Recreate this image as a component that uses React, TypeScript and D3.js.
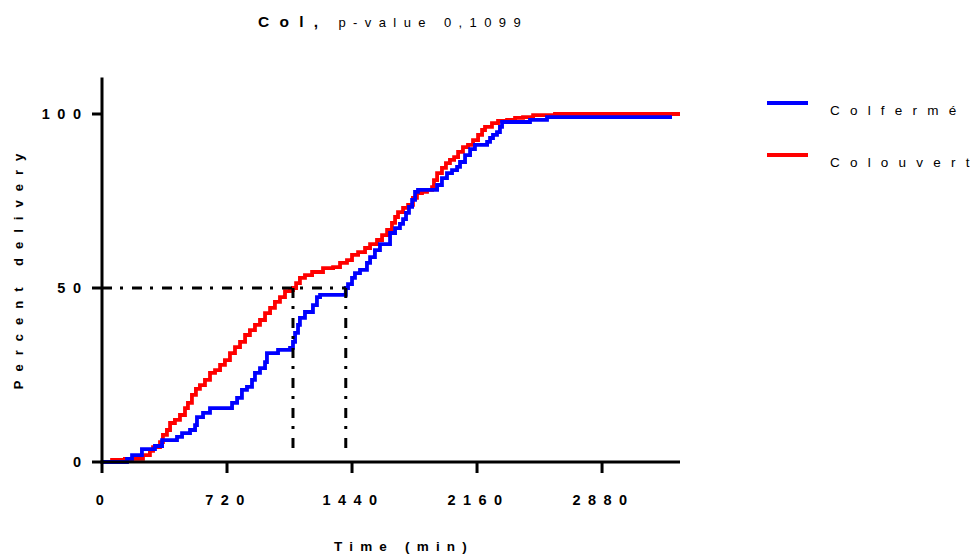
import React from "react";
import * as d3 from "d3";

// Time in minutes, cumulative percent delivered (step points)
const fermeTimes = [0, 144, 173, 230, 305, 346, 432, 461, 507, 536, 547, 582, 622, 749, 778, 806, 835, 864, 881, 910, 939, 950, 1014, 1083, 1100, 1112, 1129, 1140, 1169, 1215, 1238, 1256, 1404, 1417, 1440, 1457, 1486, 1526, 1544, 1572, 1601, 1659, 1688, 1716, 1734, 1751, 1768, 1786, 1803, 1820, 1930, 1958, 1987, 2016, 2045, 2062, 2091, 2120, 2148, 2218, 2235, 2252, 2275, 2292, 2304, 2465, 2563, 3283];
const fermeValues = [0, 0.9, 2.0, 3.7, 4.6, 6.3, 7.2, 8.3, 9.2, 10.6, 12.9, 14.1, 15.5, 17.0, 18.4, 20.7, 21.6, 23.6, 25.6, 27.0, 28.7, 31.3, 32.2, 32.8, 34.5, 37.1, 39.4, 41.4, 43.1, 45.1, 47.4, 48.0, 50.0, 51.1, 52.9, 54.3, 55.2, 57.2, 58.9, 60.9, 62.6, 65.8, 67.2, 68.4, 69.8, 71.6, 73.3, 75.3, 77.6, 78.2, 79.6, 81.6, 83.0, 83.9, 84.8, 86.2, 88.2, 89.9, 91.1, 92.0, 93.1, 94.0, 94.8, 96.3, 97.7, 98.3, 99.1, 99.1];

const ouvertTimes = [0, 58, 132, 236, 276, 294, 334, 351, 374, 392, 420, 449, 478, 495, 518, 541, 564, 593, 622, 651, 680, 708, 737, 766, 795, 824, 852, 881, 910, 939, 968, 996, 1025, 1054, 1083, 1100, 1118, 1140, 1169, 1210, 1273, 1331, 1371, 1411, 1440, 1475, 1515, 1544, 1584, 1613, 1642, 1670, 1688, 1705, 1734, 1763, 1791, 1814, 1843, 1872, 1901, 1912, 1930, 1958, 1981, 2004, 2028, 2051, 2079, 2108, 2137, 2166, 2189, 2206, 2246, 2281, 2333, 2379, 2425, 2483, 2609, 3329];
const ouvertValues = [0, 0.6, 0.9, 2.0, 3.2, 4.3, 5.7, 7.8, 9.2, 11.2, 12.1, 13.5, 15.5, 17.0, 19.3, 21.0, 22.1, 23.6, 25.6, 26.4, 27.9, 29.3, 31.3, 33.0, 34.5, 36.5, 37.9, 39.4, 40.8, 42.8, 44.3, 46.0, 47.4, 49.1, 49.4, 50.0, 51.4, 52.9, 53.7, 54.6, 55.7, 56.0, 57.2, 58.0, 59.5, 60.3, 61.5, 62.6, 63.8, 65.2, 66.7, 68.7, 70.4, 71.8, 73.0, 73.9, 75.9, 77.3, 77.6, 78.2, 79.0, 81.0, 83.0, 84.5, 85.9, 86.8, 87.6, 89.1, 90.5, 91.1, 92.5, 94.0, 95.4, 96.3, 97.4, 98.0, 98.3, 98.9, 99.1, 99.7, 100, 100];

const medianTimes = [1100, 1404];
const medianLevel = 50;
const xTicks = [0, 720, 1440, 2160, 2880];
const yTicks = [0, 50, 100];
const seriesNames = ["Colfermé", "Colouvert"];
const seriesColors = ["#0000ff", "#ff0000"];

const FONT = "'Liberation Sans', Arial, Helvetica, sans-serif";

export default function App() {
  const x = d3.scaleLinear().domain([0, 3329]).range([102, 680]);
  const y = d3.scaleLinear().domain([0, 100]).range([462, 114]);
  const yTop = y(110.5);

  const line = d3
    .line<[number, number]>()
    .x((d) => x(d[0]))
    .y((d) => y(d[1]))
    .curve(d3.curveStepAfter);

  const series = [
    { times: fermeTimes, values: fermeValues },
    { times: ouvertTimes, values: ouvertValues },
  ];

  const dash = "10,8,3,9";
  const tickSpacing = 7.5;

  return (
    <svg
      width={975}
      height={556}
      style={{ position: "absolute", left: 0, top: 0, background: "#fff" }}
      fontFamily={FONT}
    >
      {/* Title */}
      <text x={258} y={27} fill="#000">
        <tspan fontSize={15.5} fontWeight="bold" letterSpacing={10.3}>Col,</tspan>
        <tspan fontSize={13} letterSpacing={7.4} dx={10}>p-value 0,1099</tspan>
      </text>

      {/* series */}
      {[1, 0].map((i) => (
        <path
          key={i}
          d={line(series[i].times.map((t, k) => [t, series[i].values[k]] as [number, number])) || ""}
          fill="none"
          stroke={seriesColors[i]}
          strokeWidth={3.8}
        />
      ))}

      {/* median dash-dot lines */}
      <line
        x1={x(0)}
        x2={x(medianTimes[1])}
        y1={y(medianLevel)}
        y2={y(medianLevel)}
        stroke="#000"
        strokeWidth={3}
        strokeDasharray={dash}
      />
      {medianTimes.map((m) => (
        <line
          key={m}
          x1={x(m)}
          x2={x(m)}
          y1={y(medianLevel)}
          y2={y(2)}
          stroke="#000"
          strokeWidth={3}
          strokeDasharray={dash}
        />
      ))}

      {/* Y axis */}
      <line x1={x(0)} x2={x(0)} y1={yTop} y2={y(0) + 1.5} stroke="#000" strokeWidth={3} />
      {yTicks.map((t) => (
        <g key={t}>
          <line x1={x(0) - 10} x2={x(0)} y1={y(t)} y2={y(t)} stroke="#000" strokeWidth={3} />
          <text
            x={81 + tickSpacing}
            y={y(t) + 5}
            textAnchor="end"
            fontSize={14.5}
            fontWeight="bold"
            letterSpacing={tickSpacing}
          >
            {t}
          </text>
        </g>
      ))}

      {/* X axis */}
      <line x1={x(0) - 1.5} x2={680} y1={y(0)} y2={y(0)} stroke="#000" strokeWidth={3} />
      {xTicks.map((t) => (
        <g key={t}>
          <line x1={x(t)} x2={x(t)} y1={y(0)} y2={y(0) + 11} stroke="#000" strokeWidth={3} />
          <text
            x={x(t) + 1.5}
            y={505}
            textAnchor="middle"
            fontSize={14.5}
            fontWeight="bold"
            letterSpacing={tickSpacing}
          >
            {t}
          </text>
        </g>
      ))}

      {/* Axis titles */}
      <text x={404} y={551} textAnchor="middle" fontSize={13.5} fontWeight="bold" letterSpacing={7.2}>
        Time (min)
      </text>
      <text
        transform={`translate(23, 267) rotate(-90)`}
        textAnchor="middle"
        fontSize={13}
        fontWeight="bold"
        letterSpacing={9}
      >
        Percent delivery
      </text>

      {/* Legend */}
      {seriesNames.map((name, i) => (
        <g key={name}>
          <line x1={767} x2={808} y1={103 + i * 52} y2={103 + i * 52} stroke={seriesColors[i]} strokeWidth={4} />
          <text x={830} y={115 + i * 52} fontSize={13.5}>
            <tspan letterSpacing={10.2}>{name.slice(0, -1)}</tspan>
            <tspan letterSpacing={0}>{name.slice(-1)}</tspan>
          </text>
        </g>
      ))}
    </svg>
  );
}
